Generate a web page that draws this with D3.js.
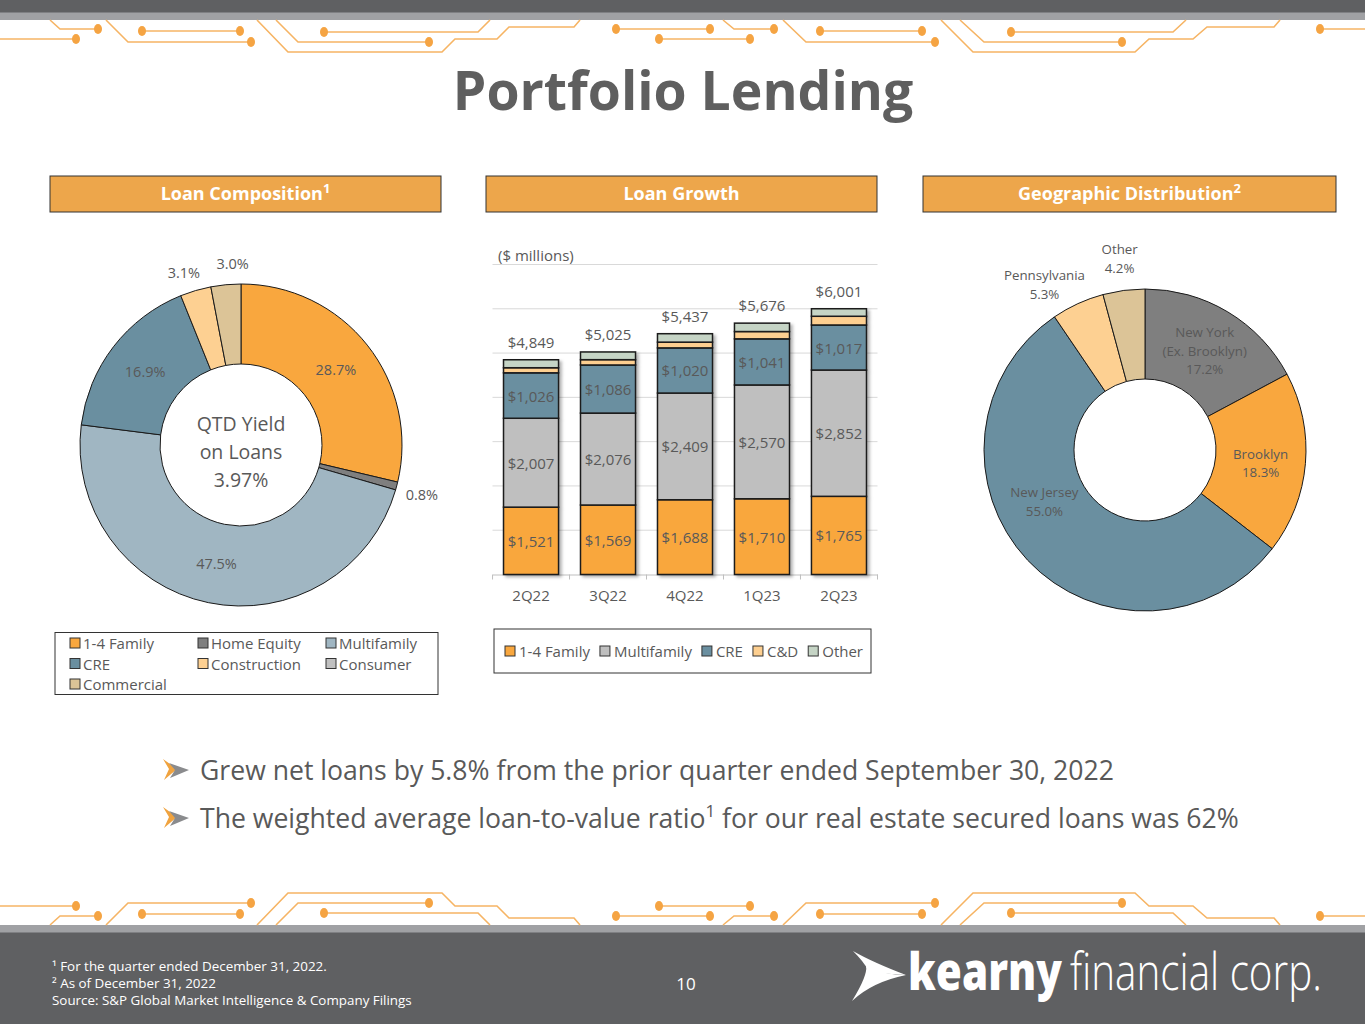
<!DOCTYPE html>
<html lang="en">
<head>
<meta charset="UTF-8">
<title>Portfolio Lending</title>
<style>
  body { margin: 0; padding: 0; background: #fff; }
  svg { display: block; font-family: "Open Sans", sans-serif; }
  .lbl { fill: #595959; font-size: 15px; }
  .hdr { fill: #fff; font-size: 18px; font-weight: 700; }
  .circuit { fill: none; stroke: #f6b464; stroke-width: 1.6px; }
  .dot { fill: #f5a443; }
</style>
</head>
<body>
<div id="slide"></div>
<script src="https://d3js.org/d3.v7.min.js"></script>
<script>
// ---- data ----
var compCategories = ["1-4 Family", "Home Equity", "Multifamily", "CRE", "Construction", "Consumer", "Commercial"];
var compValues = [28.7, 0.8, 47.5, 16.9, 3.1, 0.0, 3.0];
var compColors = ["#f9a73e", "#7f7f7f", "#a0b6c2", "#6a8fa0", "#fdd092", "#c0c0c0", "#dcc497"];
var compLabelOutside = [false, true, false, false, true, true, true];

var quarters = ["2Q22", "3Q22", "4Q22", "1Q23", "2Q23"];
var growthSeries = ["1-4 Family", "Multifamily", "CRE", "C&D", "Other"];
var family14 = [1521, 1569, 1688, 1710, 1765];
var multifamily = [2007, 2076, 2409, 2570, 2852];
var cre = [1026, 1086, 1020, 1041, 1017];
var cAndD = [115, 120, 130, 165, 197];
var otherLoans = [180, 174, 190, 190, 170];
var totals = [4849, 5025, 5437, 5676, 6001];
var growthColors = ["#f9a73e", "#bfbfbf", "#6a8fa0", "#fdcf90", "#c5d4c5"];
var labelledSeries = ["1-4 Family", "Multifamily", "CRE"];

var geoRegions = ["New York (Ex. Brooklyn)", "Brooklyn", "New Jersey", "Pennsylvania", "Other"];
var geoValues = [17.2, 18.3, 55.0, 5.3, 4.2];
var geoColors = ["#7f7f7f", "#f9a73e", "#6a8fa0", "#fdd092", "#dcc497"];
var geoLabelOutside = [false, false, false, true, true];

var bullets = [
  ["Grew net loans by 5.8% from the prior quarter ended September 30, 2022"],
  ["The weighted average loan-to-value ratio", "1", " for our real estate secured loans was 62%"]
];
var footnotes = ["\u00b9 For the quarter ended December 31, 2022.", "\u00b2 As of December 31, 2022",
  "Source: S&P Global Market Intelligence & Company Filings"];

// ---- svg ----
var W = 1365, H = 1024;
var svg = d3.select("#slide").append("svg").attr("width", W).attr("height", H);

var defs = svg.append("defs");
defs.append("filter").attr("id", "shadow").attr("x", "-20%").attr("y", "-20%").attr("width", "140%").attr("height", "140%")
  .append("feDropShadow").attr("dx", 2.5).attr("dy", 2).attr("stdDeviation", 1.5)
  .attr("flood-color", "#000").attr("flood-opacity", 0.3);

// top / bottom bands
svg.append("rect").attr("x", 0).attr("y", 0).attr("width", W).attr("height", 20).attr("fill", "#a0a1a4");
svg.append("rect").attr("x", 0).attr("y", 0).attr("width", W).attr("height", 12.5).attr("fill", "#5f6062");
svg.append("rect").attr("x", 0).attr("y", 925).attr("width", W).attr("height", 99).attr("fill", "#a0a1a4");
svg.append("rect").attr("x", 0).attr("y", 932.5).attr("width", W).attr("height", 92).attr("fill", "#5f6062");

// circuit decoration (top band, mirrored at bottom)
var circuit = [
  { p: [[0, 39], [76, 39]], d: [1] },
  { p: [[50, 20], [60, 29], [98, 29]], d: [2] },
  { p: [[142, 31], [240, 31]], d: [0, 1] },
  { p: [[106, 20], [128, 42], [251, 42]], d: [2] },
  { p: [[257, 20], [288, 52], [442, 52], [455, 39], [497, 39], [509, 27], [574, 27], [580, 20]], d: [] },
  { p: [[276, 20], [298, 42], [429, 42]], d: [2] },
  { p: [[324, 32], [478, 32], [490, 20]], d: [0] },
  { p: [[616, 29], [710, 29]], d: [0, 1] },
  { p: [[659, 39], [750, 39]], d: [0, 1] },
  { p: [[723, 20], [734, 29], [774, 29]], d: [2] },
  { p: [[820, 31], [922, 31]], d: [0, 1] },
  { p: [[783, 20], [806, 42], [935, 42]], d: [2] },
  { p: [[941, 20], [973, 52], [1135, 52], [1149, 39], [1193, 39], [1207, 27], [1274, 27], [1280, 20]], d: [] },
  { p: [[960, 20], [984, 42], [1122, 42]], d: [2] },
  { p: [[1011, 32], [1173, 32], [1186, 20]], d: [0] },
  { p: [[1320, 29], [1365, 29]], d: [0] }
];
var line = d3.line();
[function (y) { return y; }, function (y) { return 945 - y; }].forEach(function (fy) {
  var g = svg.append("g");
  circuit.forEach(function (c) {
    var pts = c.p.map(function (q) { return [q[0], fy(q[1])]; });
    g.append("path").attr("class", "circuit").attr("d", line(pts));
    c.d.forEach(function (i) {
      g.append("ellipse").attr("class", "dot").attr("cx", pts[i][0]).attr("cy", pts[i][1]).attr("rx", 4).attr("ry", 5);
    });
  });
});

// title
svg.append("text").attr("x", 683).attr("y", 110).attr("text-anchor", "middle")
  .attr("font-size", 53.5).attr("font-weight", 700).attr("fill", "#5f5f5f").text("Portfolio Lending");

// section headers
function header(x, w, t, sup) {
  svg.append("rect").attr("x", x).attr("y", 176).attr("width", w).attr("height", 36)
    .attr("fill", "#eda64b").attr("stroke", "#333").attr("stroke-width", 1);
  var tx = svg.append("text").attr("class", "hdr").attr("x", x + w / 2).attr("y", 200).attr("text-anchor", "middle").text(t);
  if (sup) tx.append("tspan").attr("font-size", 13).attr("dy", -7).text(sup);
}
header(50, 391, "Loan Composition", "1");
header(486, 391, "Loan Growth");
header(923, 413, "Geographic Distribution", "2");

// ---- donut helper ----
function donut(cx, cy, rOut, rIn, names, values, colors, outside, outR) {
  var g = svg.append("g").attr("transform", "translate(" + cx + "," + cy + ")");
  var pie = d3.pie().sort(null).value(function (d) { return d.v; });
  var data = names.map(function (n, i) { return { n: n, v: values[i], c: colors[i], out: outside[i] }; });
  var arcs = pie(data).filter(function (a) { return a.data.v > 0; });
  var arc = d3.arc().innerRadius(rIn).outerRadius(rOut);
  var arcOut = d3.arc().innerRadius(outR).outerRadius(outR);
  g.selectAll("path.slice").data(arcs).enter().append("path").attr("class", "slice")
    .attr("d", arc).attr("fill", function (d) { return d.data.c; })
    .attr("stroke", "#1a1a1a").attr("stroke-width", 1);
  return { g: g, arcs: arcs, arc: arc, arcOut: arcOut };
}

// left donut
var left = donut(241, 445, 161, 81, compCategories, compValues, compColors, compLabelOutside, 185);
var compNudge = { "Construction": [-5, 5], "Commercial": [9, 3], "Home Equity": [2, 2] };
left.g.selectAll("text.pl").data(left.arcs).enter().append("text").attr("class", "lbl pl")
  .style("font-size", "14.5px")
  .attr("text-anchor", "middle").attr("dominant-baseline", "central")
  .attr("transform", function (d) {
    var c = d.data.out ? left.arcOut.centroid(d) : left.arc.centroid(d);
    var n = compNudge[d.data.n] || [0, 0];
    return "translate(" + (c[0] + n[0]) + "," + (c[1] + n[1]) + ")";
  })
  .text(function (d) { return d3.format(".1f")(d.data.v) + "%"; });
var centerText = ["QTD Yield", "on Loans", "3.97%"];
left.g.selectAll("text.ct").data(centerText).enter().append("text")
  .attr("x", 0).attr("y", function (d, i) { return -22 + i * 28; })
  .attr("text-anchor", "middle").attr("dominant-baseline", "central")
  .attr("font-size", 19.5).attr("fill", "#595959").text(function (d) { return d; });

// left legend
svg.append("rect").attr("x", 55).attr("y", 632.5).attr("width", 383).attr("height", 62)
  .attr("fill", "#fff").attr("stroke", "#333").attr("stroke-width", 1);
compCategories.forEach(function (n, i) {
  var col = i % 3, row = Math.floor(i / 3);
  var x = 70 + col * 128, y = 643 + row * 20.5;
  svg.append("rect").attr("x", x).attr("y", y - 5).attr("width", 10).attr("height", 10)
    .attr("fill", compColors[i]).attr("stroke", "#333").attr("stroke-width", 1);
  svg.append("text").attr("class", "lbl").attr("x", x + 13).attr("y", y).attr("dominant-baseline", "central").text(n);
});

// ---- bar chart ----
var x = d3.scaleBand().domain(quarters).range([492.5, 877.5]).paddingInner(0.285).paddingOuter(0.143);
var y = d3.scaleLinear().domain([0, 7000]).range([574.5, 264.5]);

svg.append("g").selectAll("line").data(y.ticks(7).slice(1)).enter().append("line")
  .attr("x1", 492.5).attr("x2", 877.5).attr("y1", function (d) { return y(d); }).attr("y2", function (d) { return y(d); })
  .attr("stroke", "#d9d9d9").attr("stroke-width", 1);

var xAxis = svg.append("g").attr("transform", "translate(0," + y(0) + ")")
  .call(d3.axisBottom(x).tickSize(0).tickPadding(16));
xAxis.select(".domain").attr("stroke", "#bfbfbf");
xAxis.selectAll("text").attr("font-family", "Open Sans").attr("font-size", 15).attr("fill", "#595959");
var bounds = quarters.map(function (q) { return x(q) - x.step() * x.paddingInner() / 2; });
bounds.push(877.5);
xAxis.selectAll("line.bd").data(bounds).enter().append("line").attr("class", "bd")
  .attr("x1", function (d) { return d; }).attr("x2", function (d) { return d; })
  .attr("y1", 0).attr("y2", 5).attr("stroke", "#bfbfbf");

var rows = quarters.map(function (q, i) {
  return { q: q, "1-4 Family": family14[i], "Multifamily": multifamily[i], "CRE": cre[i], "C&D": cAndD[i], "Other": otherLoans[i], total: totals[i] };
});
var stack = d3.stack().keys(growthSeries)(rows);
var color = d3.scaleOrdinal().domain(growthSeries).range(growthColors);

var barG = svg.append("g");
quarters.forEach(function (q, qi) {
  var bg = barG.append("g").attr("filter", "url(#shadow)");
  stack.forEach(function (s) {
    var d = s[qi];
    bg.append("rect").attr("x", x(q)).attr("width", x.bandwidth())
      .attr("y", y(d[1])).attr("height", y(d[0]) - y(d[1]))
      .attr("fill", color(s.key)).attr("stroke", "#1a1a1a").attr("stroke-width", 1.5);
  });
});
stack.forEach(function (s) {
  if (labelledSeries.indexOf(s.key) < 0) return;
  s.forEach(function (d, qi) {
    svg.append("text").attr("class", "lbl").attr("text-anchor", "middle").attr("dominant-baseline", "central")
      .attr("x", x(quarters[qi]) + x.bandwidth() / 2).attr("y", y((d[0] + d[1]) / 2))
      .text("$" + d3.format(",")(d[1] - d[0]));
  });
});
rows.forEach(function (r) {
  svg.append("text").attr("class", "lbl").attr("text-anchor", "middle").attr("dominant-baseline", "central")
    .attr("x", x(r.q) + x.bandwidth() / 2).attr("y", y(r.total) - 18)
    .text("$" + d3.format(",")(r.total));
});
svg.append("text").attr("class", "lbl").attr("x", 498).attr("y", 255).attr("dominant-baseline", "central").text("($ millions)");

// bar legend
svg.append("rect").attr("x", 494).attr("y", 629).attr("width", 377).attr("height", 44)
  .attr("fill", "#fff").attr("stroke", "#333").attr("stroke-width", 1);
var lx = 505;
growthSeries.forEach(function (n, i) {
  svg.append("rect").attr("x", lx).attr("y", 646).attr("width", 10).attr("height", 10)
    .attr("fill", growthColors[i]).attr("stroke", "#333").attr("stroke-width", 1);
  var t = svg.append("text").attr("class", "lbl").attr("x", lx + 14).attr("y", 651).attr("dominant-baseline", "central").text(n);
  lx += 14 + t.node().getComputedTextLength() + 10;
});

// ---- right donut ----
var right = donut(1145, 450, 161, 71, geoRegions, geoValues, geoColors, geoLabelOutside, 193);
var geoNudge = { "Brooklyn": [0, 3], "New Jersey": [-16, -28], "Pennsylvania": [-20, 10] };
right.g.selectAll("text.gl").data(right.arcs).enter().append("text").attr("class", "gl")
  .attr("text-anchor", "middle").attr("font-size", 13.3).attr("fill", "#595959")
  .attr("transform", function (d) {
    var c = d.data.out ? right.arcOut.centroid(d) : right.arc.centroid(d);
    var n = geoNudge[d.data.n] || [0, 0];
    return "translate(" + (c[0] + n[0]) + "," + (c[1] + n[1]) + ")";
  })
  .each(function (d) {
    var parts = d.data.n.split(" (");
    if (parts.length > 1) parts[1] = "(" + parts[1];
    parts.push(d3.format(".1f")(d.data.v) + "%");
    var t = d3.select(this);
    var off = -(parts.length - 1) * 18.5 / 2;
    parts.forEach(function (p, i) {
      t.append("tspan").attr("x", 0).attr("y", off + i * 18.5).attr("dominant-baseline", "central").text(p);
    });
  });

// ---- bullets ----
bullets.forEach(function (b, i) {
  var by = 770 + i * 48;
  var g = svg.append("g").attr("transform", "translate(163," + (by - 11) + ")");
  g.append("path").attr("d", "M0,0 L14,10 L1,21 L6,10 Z").attr("fill", "#f0a33f");
  g.append("path").attr("d", "M6,4 L26,11 L7,19 L12,11 Z").attr("fill", "#8a8b8d");
  var t = svg.append("text").attr("x", 200).attr("y", by).attr("dominant-baseline", "central")
    .attr("font-size", 26.6).attr("fill", "#595959");
  t.append("tspan").text(b[0]);
  if (b.length > 1) {
    t.append("tspan").attr("font-size", 17).attr("dy", -8).text(b[1]);
    t.append("tspan").attr("dy", 8).text(b[2]);
  }
});

// ---- footer ----
// squeeze a text horizontally to a target width (keeps its real bbox)
function squeezed(parent, x0, y0, w, size, weight, txt, baseline) {
  var t = parent.append("text").attr("x", 0).attr("y", 0).attr("font-size", size).attr("font-weight", weight)
    .attr("fill", "#fff").text(txt);
  if (baseline) t.attr("dominant-baseline", baseline);
  var sx = w / t.node().getComputedTextLength();
  t.attr("transform", "translate(" + x0 + "," + y0 + ") scale(" + sx + ",1)");
  return t;
}
var fw = [275, 164, 360];
footnotes.forEach(function (f, i) {
  squeezed(svg, 52, 966 + i * 17, fw[i], 13, 400, f, "central");
});
svg.append("text").attr("x", 686).attr("y", 983).attr("text-anchor", "middle").attr("dominant-baseline", "central")
  .attr("font-size", 17).attr("fill", "#fff").text("10");

// logo
var logo = svg.append("g");
logo.append("path").attr("d", "M853,951 Q872,962 906,975 Q880,974 868,970 Q864,962 853,951 Z").attr("fill", "#fff");
logo.append("path").attr("d", "M906,975 Q872,982 852,1001 Q868,975 866,966 Q884,975 906,975 Z").attr("fill", "#fff");
squeezed(logo, 908, 990, 154, 52, 800, "kearny");
squeezed(logo, 1070, 990, 252, 52, 300, "financial corp.");
</script>
</body>
</html>
